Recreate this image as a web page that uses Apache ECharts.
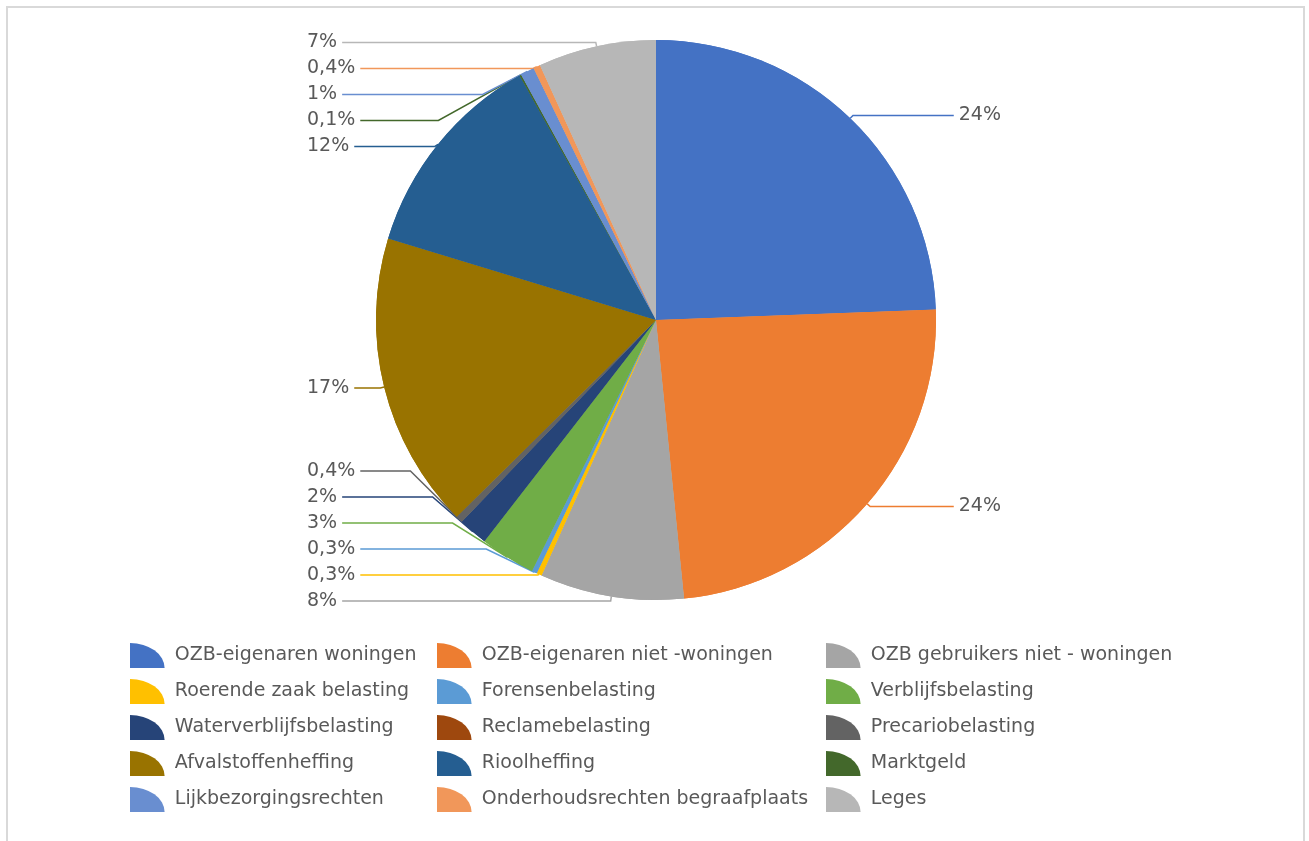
<!DOCTYPE html>
<html>
<head>
<meta charset="utf-8">
<script src="https://cdn.jsdelivr.net/npm/echarts@6/dist/echarts.min.js"></script>
<style>
html,body{margin:0;padding:0;background:#fff;}
#chart{width:1309px;height:841px;}
</style>
</head>
<body>
<div id="chart"></div>
<script>
var categories = [
  'OZB-eigenaren woningen',
  'OZB-eigenaren niet -woningen',
  'OZB gebruikers niet - woningen',
  'Roerende zaak belasting',
  'Forensenbelasting',
  'Verblijfsbelasting',
  'Waterverblijfsbelasting',
  'Reclamebelasting',
  'Precariobelasting',
  'Afvalstoffenheffing',
  'Rioolheffing',
  'Marktgeld',
  'Lijkbezorgingsrechten',
  'Onderhoudsrechten begraafplaats',
  'Leges'
];
var values = [24.4, 24.0, 8.3, 0.3, 0.3, 3.2, 1.7, 0, 0.4, 17.1, 12.2, 0.1, 0.8, 0.4, 6.8];
var colors = ['#4472C4', '#ED7D31', '#A5A5A5', '#FFC000', '#5B9BD5', '#70AD47', '#264478', '#9E480E', '#636363', '#997300', '#255E91', '#43682B', '#698ED0', '#F1975A', '#B7B7B7'];
var legendCol1 = ['OZB-eigenaren woningen', 'Roerende zaak belasting', 'Waterverblijfsbelasting', 'Afvalstoffenheffing', 'Lijkbezorgingsrechten'];
var legendCol2 = ['OZB-eigenaren niet -woningen', 'Forensenbelasting', 'Reclamebelasting', 'Rioolheffing', 'Onderhoudsrechten begraafplaats'];
var legendCol3 = ['OZB gebruikers niet - woningen', 'Verblijfsbelasting', 'Precariobelasting', 'Marktgeld', 'Leges'];
// categories whose labels are laid out in the upper label group
var upperLabelGroup = ['Afvalstoffenheffing', 'Rioolheffing', 'Marktgeld', 'Lijkbezorgingsrechten', 'Onderhoudsrechten begraafplaats', 'Leges'];

function fmtPct(v) {
  if (v < 0.5) return v.toFixed(1).replace('.', ',') + '%';
  return Math.round(v) + '%';
}

function buildData(upper) {
  return categories.map(function (c, i) {
    var item = { name: c, value: values[i], itemStyle: { color: colors[i] } };
    var inUpper = upperLabelGroup.indexOf(c) >= 0;
    if (values[i] === 0 || inUpper !== upper) {
      item.label = { show: false };
      item.labelLine = { show: false };
    }
    return item;
  });
}

var FONT = 'DejaVu Sans';
var TXT = '#595959';
var icon = 'path://M0,0 A36,26 0 0 1 36,26 L0,26 Z';

function legend(x, list) {
  return {
    orient: 'vertical',
    left: x,
    top: 638,
    data: list,
    icon: icon,
    itemWidth: 35,
    itemHeight: 25,
    itemGap: 11,
    selectedMode: false,
    textStyle: { fontFamily: FONT, fontSize: 19, color: TXT, padding: [0, 0, 0, 5] }
  };
}

function pieSeries(upper) {
  return {
    type: 'pie',
    left: 307,
    right: 308,
    top: 0,
    bottom: upper ? 0 : 227,
    center: [349, 320],
    radius: 280,
    startAngle: 90,
    clockwise: true,
    avoidLabelOverlap: true,
    silent: upper,
    z: upper ? 3 : 2,
    data: buildData(upper),
    itemStyle: { borderWidth: 0 },
    emphasis: { disabled: true },
    label: {
      show: true,
      position: 'outer',
      alignTo: 'edge',
      edgeDistance: 0,
      fontFamily: FONT,
      fontSize: 19,
      color: TXT,
      lineHeight: 24,
      formatter: function (p) { return fmtPct(p.value); }
    },
    labelLine: {
      show: true,
      length: 4,
      length2: 10,
      lineStyle: { width: 1.5 }
    }
  };
}

var chart = echarts.init(document.getElementById('chart'), null, { renderer: 'canvas' });
chart.setOption({
  animation: false,
  backgroundColor: '#fff',
  graphic: [{
    type: 'rect',
    shape: { x: 7, y: 7, width: 1297, height: 845 },
    style: { fill: null, stroke: '#D9D9D9', lineWidth: 2 },
    silent: true
  }],
  legend: [legend(125, legendCol1), legend(432, legendCol2), legend(821, legendCol3)],
  series: [pieSeries(false), pieSeries(true)]
});
</script>
</body>
</html>
